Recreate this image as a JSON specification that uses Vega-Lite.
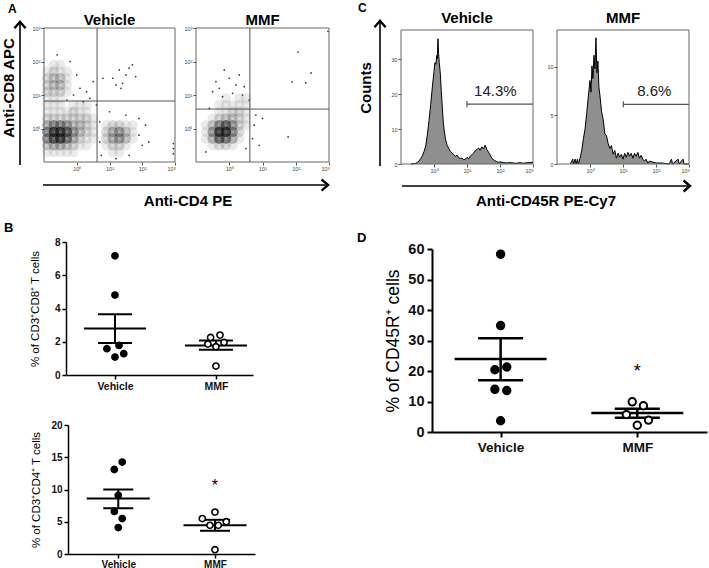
{
"$schema": "https://vega.github.io/schema/vega-lite/v6.json",
"width": 709,
"height": 568,
"autosize": {"type": "none"},
"padding": 0,
"background": "white",
"config": {"font": "Liberation Sans", "view": {"stroke": null}, "axis": {"grid": false, "labelOverlap": false, "labelFont": "Liberation Sans", "titleFont": "Liberation Sans"}},
"datasets": {
"aveh_density": [
{"cd4":-0.9,"cd8":0.7,"n":1},{"cd4":-0.7,"cd8":0.7,"n":1},{"cd4":-0.5,"cd8":0.7,"n":1},{"cd4":-0.1,"cd8":0.7,"n":1},{"cd4":0.1,"cd8":0.7,"n":1},{"cd4":0.3,"cd8":0.7,"n":1},
{"cd4":-0.9,"cd8":0.5,"n":1},{"cd4":-0.7,"cd8":0.5,"n":1},{"cd4":-0.5,"cd8":0.5,"n":1},{"cd4":-0.3,"cd8":0.5,"n":1},{"cd4":-0.1,"cd8":0.5,"n":2},{"cd4":0.1,"cd8":0.5,"n":1},{"cd4":0.3,"cd8":0.5,"n":1},
{"cd4":-0.9,"cd8":0.3,"n":2},{"cd4":-0.7,"cd8":0.3,"n":2},{"cd4":-0.5,"cd8":0.3,"n":2},{"cd4":-0.3,"cd8":0.3,"n":2},{"cd4":-0.1,"cd8":0.3,"n":2},{"cd4":0.1,"cd8":0.3,"n":2},{"cd4":0.3,"cd8":0.3,"n":2},{"cd4":0.5,"cd8":0.3,"n":1},
{"cd4":-0.9,"cd8":0.1,"n":4},{"cd4":-0.7,"cd8":0.1,"n":6},{"cd4":-0.5,"cd8":0.1,"n":6},{"cd4":-0.3,"cd8":0.1,"n":5},{"cd4":-0.1,"cd8":0.1,"n":3},{"cd4":0.1,"cd8":0.1,"n":3},{"cd4":0.3,"cd8":0.1,"n":2},{"cd4":0.5,"cd8":0.1,"n":1},
{"cd4":-0.9,"cd8":-0.1,"n":6},{"cd4":-0.7,"cd8":-0.1,"n":10},{"cd4":-0.5,"cd8":-0.1,"n":10},{"cd4":-0.3,"cd8":-0.1,"n":8},{"cd4":-0.1,"cd8":-0.1,"n":5},{"cd4":0.1,"cd8":-0.1,"n":3},{"cd4":0.3,"cd8":-0.1,"n":2},{"cd4":0.5,"cd8":-0.1,"n":1},
{"cd4":-0.9,"cd8":-0.3,"n":6},{"cd4":-0.7,"cd8":-0.3,"n":9},{"cd4":-0.5,"cd8":-0.3,"n":10},{"cd4":-0.3,"cd8":-0.3,"n":7},{"cd4":-0.1,"cd8":-0.3,"n":4},{"cd4":0.1,"cd8":-0.3,"n":2},{"cd4":0.3,"cd8":-0.3,"n":1},{"cd4":0.5,"cd8":-0.3,"n":1},
{"cd4":-0.9,"cd8":-0.5,"n":3},{"cd4":-0.7,"cd8":-0.5,"n":4},{"cd4":-0.5,"cd8":-0.5,"n":4},{"cd4":-0.3,"cd8":-0.5,"n":3},{"cd4":-0.1,"cd8":-0.5,"n":2},{"cd4":0.1,"cd8":-0.5,"n":1},{"cd4":0.3,"cd8":-0.5,"n":1},
{"cd4":-0.9,"cd8":-0.7,"n":1},{"cd4":-0.7,"cd8":-0.7,"n":1},{"cd4":-0.5,"cd8":-0.7,"n":1},{"cd4":-0.3,"cd8":-0.7,"n":1},{"cd4":-0.1,"cd8":-0.7,"n":1},
{"cd4":-0.7,"cd8":1.9,"n":1},{"cd4":-0.5,"cd8":1.9,"n":1},
{"cd4":-0.9,"cd8":1.7,"n":1},{"cd4":-0.7,"cd8":1.7,"n":2},{"cd4":-0.5,"cd8":1.7,"n":1},{"cd4":-0.3,"cd8":1.7,"n":1},
{"cd4":-0.9,"cd8":1.5,"n":2},{"cd4":-0.7,"cd8":1.5,"n":3},{"cd4":-0.5,"cd8":1.5,"n":3},{"cd4":-0.3,"cd8":1.5,"n":1},
{"cd4":-0.9,"cd8":1.3,"n":2},{"cd4":-0.7,"cd8":1.3,"n":3},{"cd4":-0.5,"cd8":1.3,"n":3},{"cd4":-0.3,"cd8":1.3,"n":1},
{"cd4":-0.9,"cd8":1.1,"n":2},{"cd4":-0.7,"cd8":1.1,"n":2},{"cd4":-0.5,"cd8":1.1,"n":2},{"cd4":-0.3,"cd8":1.1,"n":1},
{"cd4":-0.9,"cd8":0.9,"n":1},{"cd4":-0.7,"cd8":0.9,"n":1},{"cd4":-0.5,"cd8":0.9,"n":1},
{"cd4":0.9,"cd8":0.1,"n":1},{"cd4":1.1,"cd8":0.1,"n":2},{"cd4":1.3,"cd8":0.1,"n":2},{"cd4":1.5,"cd8":0.1,"n":1},{"cd4":1.7,"cd8":0.1,"n":1},
{"cd4":0.9,"cd8":-0.1,"n":2},{"cd4":1.1,"cd8":-0.1,"n":4},{"cd4":1.3,"cd8":-0.1,"n":5},{"cd4":1.5,"cd8":-0.1,"n":3},{"cd4":1.7,"cd8":-0.1,"n":1},
{"cd4":0.9,"cd8":-0.3,"n":2},{"cd4":1.1,"cd8":-0.3,"n":4},{"cd4":1.3,"cd8":-0.3,"n":5},{"cd4":1.5,"cd8":-0.3,"n":3},{"cd4":1.7,"cd8":-0.3,"n":1},
{"cd4":0.9,"cd8":-0.5,"n":1},{"cd4":1.1,"cd8":-0.5,"n":2},{"cd4":1.3,"cd8":-0.5,"n":2},{"cd4":1.5,"cd8":-0.5,"n":1},
{"cd4":1.1,"cd8":-0.7,"n":1},{"cd4":1.3,"cd8":-0.7,"n":1}
],
"aveh_events": [
{"cd4":1.1,"cd8":1.5},{"cd4":1.3,"cd8":1.75},{"cd4":1.5,"cd8":1.6},{"cd4":1.7,"cd8":1.9},{"cd4":1.4,"cd8":1.35},{"cd4":1.6,"cd8":1.8},{"cd4":1.2,"cd8":1.3},{"cd4":0.5,"cd8":1.4},{"cd4":0.3,"cd8":1.1},{"cd4":0.1,"cd8":1.2},{"cd4":-0.1,"cd8":1.0},{"cd4":0.0,"cd8":1.6},{"cd4":-0.2,"cd8":2.0},{"cd4":-0.6,"cd8":2.2},{"cd4":0.8,"cd8":1.5},{"cd4":1.9,"cd8":-0.2},{"cd4":2.0,"cd8":-0.5},{"cd4":2.1,"cd8":0.1},{"cd4":1.9,"cd8":0.3},{"cd4":2.2,"cd8":-0.4},{"cd4":2.95,"cd8":-0.45},{"cd4":2.95,"cd8":-0.6},{"cd4":2.95,"cd8":-0.75},{"cd4":0.7,"cd8":0.2},{"cd4":0.7,"cd8":-0.4},{"cd4":0.75,"cd8":-0.8},{"cd4":1.0,"cd8":0.5},{"cd4":1.5,"cd8":0.4},{"cd4":0.6,"cd8":0.7},{"cd4":0.4,"cd8":0.9},{"cd4":0.2,"cd8":0.8},{"cd4":-0.3,"cd8":0.85},{"cd4":1.2,"cd8":-0.9},{"cd4":1.6,"cd8":-0.8},{"cd4":1.8,"cd8":1.55},{"cd4":1.35,"cd8":1.2}
],
"ammf_density": [
{"cd4":-0.1,"cd8":0.9,"n":1},{"cd4":0.3,"cd8":0.9,"n":1},{"cd4":0.5,"cd8":0.9,"n":1},
{"cd4":-0.3,"cd8":0.7,"n":1},{"cd4":-0.1,"cd8":0.7,"n":1},{"cd4":0.1,"cd8":0.7,"n":1},{"cd4":0.3,"cd8":0.7,"n":1},{"cd4":0.5,"cd8":0.7,"n":1},
{"cd4":-0.3,"cd8":0.5,"n":1},{"cd4":-0.1,"cd8":0.5,"n":1},{"cd4":0.1,"cd8":0.5,"n":2},{"cd4":0.3,"cd8":0.5,"n":2},{"cd4":0.5,"cd8":0.5,"n":1},
{"cd4":-0.5,"cd8":0.3,"n":1},{"cd4":-0.3,"cd8":0.3,"n":2},{"cd4":-0.1,"cd8":0.3,"n":3},{"cd4":0.1,"cd8":0.3,"n":3},{"cd4":0.3,"cd8":0.3,"n":2},{"cd4":0.5,"cd8":0.3,"n":1},
{"cd4":-0.7,"cd8":0.1,"n":1},{"cd4":-0.5,"cd8":0.1,"n":3},{"cd4":-0.3,"cd8":0.1,"n":6},{"cd4":-0.1,"cd8":0.1,"n":8},{"cd4":0.1,"cd8":0.1,"n":5},{"cd4":0.3,"cd8":0.1,"n":2},{"cd4":0.5,"cd8":0.1,"n":1},
{"cd4":-0.7,"cd8":-0.1,"n":1},{"cd4":-0.5,"cd8":-0.1,"n":5},{"cd4":-0.3,"cd8":-0.1,"n":10},{"cd4":-0.1,"cd8":-0.1,"n":10},{"cd4":0.1,"cd8":-0.1,"n":6},{"cd4":0.3,"cd8":-0.1,"n":2},
{"cd4":-0.7,"cd8":-0.3,"n":1},{"cd4":-0.5,"cd8":-0.3,"n":4},{"cd4":-0.3,"cd8":-0.3,"n":8},{"cd4":-0.1,"cd8":-0.3,"n":7},{"cd4":0.1,"cd8":-0.3,"n":4},{"cd4":0.3,"cd8":-0.3,"n":1},
{"cd4":-0.5,"cd8":-0.5,"n":1},{"cd4":-0.3,"cd8":-0.5,"n":2},{"cd4":-0.1,"cd8":-0.5,"n":2},{"cd4":0.1,"cd8":-0.5,"n":1}
],
"ammf_events": [
{"cd4":-0.3,"cd8":1.2},{"cd4":0.0,"cd8":1.5},{"cd4":0.2,"cd8":1.3},{"cd4":-0.5,"cd8":1.1},{"cd4":0.4,"cd8":1.0},{"cd4":0.1,"cd8":1.05},{"cd4":-0.2,"cd8":0.95},{"cd4":0.3,"cd8":1.6},{"cd4":-0.4,"cd8":1.4},{"cd4":0.6,"cd8":0.85},{"cd4":0.8,"cd8":0.4},{"cd4":1.0,"cd8":0.3},{"cd4":0.7,"cd8":-0.3},{"cd4":0.9,"cd8":-0.5},{"cd4":0.75,"cd8":0.1},{"cd4":2.07,"cd8":2.28},{"cd4":2.46,"cd8":1.66},{"cd4":1.89,"cd8":1.39},{"cd4":2.3,"cd8":1.36},{"cd4":1.77,"cd8":-0.25},{"cd4":2.97,"cd8":2.9},{"cd4":-0.6,"cd8":0.6},{"cd4":-0.7,"cd8":-0.7},{"cd4":0.5,"cd8":-0.6},{"cd4":-0.15,"cd8":1.75},{"cd4":0.45,"cd8":1.25}
],
"cveh": [
{"log":-0.7,"count":0},{"log":-0.55,"count":0.2},{"log":-0.5,"count":0.5},{"log":-0.45,"count":0.9},{"log":-0.4,"count":1.6},{"log":-0.35,"count":2.4},{"log":-0.3,"count":3.6},{"log":-0.25,"count":5.2},{"log":-0.2,"count":8.5},{"log":-0.15,"count":12.5},{"log":-0.1,"count":17},{"log":-0.05,"count":22},{"log":0.0,"count":26.5},{"log":0.03,"count":29},{"log":0.06,"count":28.5},{"log":0.08,"count":31},{"log":0.1,"count":30},{"log":0.12,"count":35.8},{"log":0.14,"count":31.5},{"log":0.16,"count":29},{"log":0.19,"count":26},{"log":0.22,"count":21},{"log":0.25,"count":16.5},{"log":0.28,"count":12},{"log":0.31,"count":9.5},{"log":0.35,"count":7},{"log":0.4,"count":5.3},{"log":0.45,"count":4.4},{"log":0.5,"count":3.6},{"log":0.55,"count":3.1},{"log":0.6,"count":2.7},{"log":0.65,"count":2.2},{"log":0.7,"count":2.5},{"log":0.75,"count":1.8},{"log":0.8,"count":1.6},{"log":0.85,"count":1.7},{"log":0.9,"count":1.2},{"log":0.95,"count":1.4},{"log":1.0,"count":1.9},{"log":1.05,"count":1.5},{"log":1.1,"count":2.3},{"log":1.15,"count":2.6},{"log":1.2,"count":3.1},{"log":1.25,"count":3.8},{"log":1.3,"count":4.1},{"log":1.35,"count":4.6},{"log":1.4,"count":3.9},{"log":1.45,"count":4.9},{"log":1.5,"count":4.3},{"log":1.55,"count":5.4},{"log":1.6,"count":4.2},{"log":1.65,"count":3.4},{"log":1.7,"count":2.6},{"log":1.75,"count":1.7},{"log":1.8,"count":1.3},{"log":1.85,"count":0.9},{"log":1.9,"count":0.7},{"log":1.95,"count":0.5},{"log":2.0,"count":0.6},{"log":2.1,"count":0.4},{"log":2.2,"count":0.3},{"log":2.3,"count":0.4},{"log":2.4,"count":0.3},{"log":2.5,"count":0.2},{"log":2.6,"count":0.4},{"log":2.7,"count":0.2},{"log":2.8,"count":0.35},{"log":2.9,"count":0.4},{"log":3.0,"count":0.5}
],
"cmmf": [
{"log":-0.6,"count":0},{"log":-0.52,"count":0.5},{"log":-0.5,"count":0},{"log":-0.45,"count":0.5},{"log":-0.42,"count":0},{"log":-0.38,"count":0.5},{"log":-0.35,"count":0},{"log":-0.3,"count":0.6},{"log":-0.25,"count":1.4},{"log":-0.2,"count":2.6},{"log":-0.15,"count":3.6},{"log":-0.1,"count":5.2},{"log":-0.05,"count":7},{"log":0.0,"count":8.6},{"log":0.03,"count":7.4},{"log":0.06,"count":10.1},{"log":0.09,"count":8.8},{"log":0.12,"count":11.2},{"log":0.15,"count":9.8},{"log":0.18,"count":13},{"log":0.21,"count":9.4},{"log":0.24,"count":10.6},{"log":0.27,"count":7.9},{"log":0.3,"count":7.1},{"log":0.35,"count":5.4},{"log":0.4,"count":4.6},{"log":0.45,"count":3.1},{"log":0.5,"count":2.9},{"log":0.55,"count":2.1},{"log":0.6,"count":1.6},{"log":0.65,"count":1.9},{"log":0.7,"count":1.0},{"log":0.75,"count":1.4},{"log":0.8,"count":0.6},{"log":0.85,"count":1.1},{"log":0.9,"count":0.7},{"log":0.95,"count":1.0},{"log":1.0,"count":0.5},{"log":1.05,"count":1.1},{"log":1.1,"count":0.7},{"log":1.15,"count":1.2},{"log":1.2,"count":0.8},{"log":1.25,"count":1.1},{"log":1.3,"count":0.6},{"log":1.35,"count":1.1},{"log":1.4,"count":0.8},{"log":1.45,"count":1.2},{"log":1.5,"count":0.6},{"log":1.55,"count":0.9},{"log":1.6,"count":0.5},{"log":1.65,"count":0.3},{"log":1.7,"count":0.5},{"log":1.75,"count":0.1},{"log":1.8,"count":0.3},{"log":1.9,"count":0.2},{"log":2.0,"count":0.1},{"log":2.2,"count":0.1},{"log":2.4,"count":0},{"log":2.47,"count":0.5},{"log":2.5,"count":0},{"log":2.67,"count":0.5},{"log":2.7,"count":0},{"log":2.82,"count":0.5},{"log":2.85,"count":0},{"log":3.0,"count":0}
],
"btop_pts": [
{"group":"Vehicle","pos":1.0,"pct":7.17},{"group":"Vehicle","pos":1.0,"pct":4.81},{"group":"Vehicle","pos":0.92,"pct":1.58},{"group":"Vehicle","pos":1.04,"pct":1.78},{"group":"Vehicle","pos":1.0,"pct":1.08},{"group":"Vehicle","pos":1.087,"pct":1.28},
{"group":"MMF","pos":1.947,"pct":2.26},{"group":"MMF","pos":2.04,"pct":2.4},{"group":"MMF","pos":1.92,"pct":1.86},{"group":"MMF","pos":2.08,"pct":1.96},{"group":"MMF","pos":2.0,"pct":1.7},{"group":"MMF","pos":2.0,"pct":0.54}
],
"btop_stats": [
{"group":"Vehicle","pos":1,"mean":2.79,"upper":3.65,"lower":1.92},{"group":"MMF","pos":2,"mean":1.78,"upper":2.08,"lower":1.52}
],
"bbot_pts": [
{"group":"Vehicle","pos":1.041,"pct":14.25},{"group":"Vehicle","pos":0.959,"pct":13.1},{"group":"Vehicle","pos":1.0,"pct":9.1},{"group":"Vehicle","pos":0.959,"pct":6.6},{"group":"Vehicle","pos":1.041,"pct":5.5},{"group":"Vehicle","pos":1.0,"pct":4.1},
{"group":"MMF","pos":2.0,"pct":6.5},{"group":"MMF","pos":1.869,"pct":5.5},{"group":"MMF","pos":1.948,"pct":4.45},{"group":"MMF","pos":2.034,"pct":4.45},{"group":"MMF","pos":2.117,"pct":5.0},{"group":"MMF","pos":2.0,"pct":0.67}
],
"bbot_stats": [
{"group":"Vehicle","pos":1,"mean":8.6,"upper":10.0,"lower":7.1},{"group":"MMF","pos":2,"mean":4.45,"upper":5.3,"lower":3.6}
],
"d_pts": [
{"group":"Vehicle","pos":1.0,"pct":58.3},{"group":"Vehicle","pos":1.0,"pct":34.9},{"group":"Vehicle","pos":0.958,"pct":20.4},{"group":"Vehicle","pos":1.045,"pct":21.3},{"group":"Vehicle","pos":0.958,"pct":14.0},{"group":"Vehicle","pos":1.045,"pct":13.6},{"group":"Vehicle","pos":1.0,"pct":3.7},
{"group":"MMF","pos":1.963,"pct":9.9},{"group":"MMF","pos":2.045,"pct":8.6},{"group":"MMF","pos":1.92,"pct":5.7},{"group":"MMF","pos":2.082,"pct":3.9},{"group":"MMF","pos":2.0,"pct":2.2}
],
"d_stats": [
{"group":"Vehicle","pos":1,"mean":23.9,"upper":30.7,"lower":17.0},{"group":"MMF","pos":2,"mean":6.25,"upper":7.6,"lower":4.7}
]
},
"resolve": {"scale": {"x": "independent", "y": "independent"}},
"layer": [
{"layer": [
  {"data":{"name":"aveh_density"},"mark":{"type":"point","shape":"circle","filled":true,"size":110,"color":"black"},
   "encoding":{
    "x":{"field":"cd4","type":"quantitative","scale":{"domain":[-1,3],"range":[44,175],"nice":false,"zero":false},"axis":{"orient":"bottom","offset":-406,"values":[0,1,2,3],"labelExpr":"datum.value == 0 ? '10⁰' : datum.value == 1 ? '10¹' : datum.value == 2 ? '10²' : '10³'","title":null,"labelFontSize":5.5,"labelColor":"#444","tickSize":3,"tickColor":"#555","domain":false,"labelPadding":1}},
    "y":{"field":"cd8","type":"quantitative","scale":{"domain":[-1,3],"range":[162,28],"nice":false,"zero":false},"axis":{"orient":"left","offset":-44,"values":[0,1,2,3],"labelExpr":"datum.value == 0 ? '10⁰' : datum.value == 1 ? '10¹' : datum.value == 2 ? '10²' : '10³'","title":null,"labelFontSize":5.5,"labelColor":"#444","tickSize":3,"tickColor":"#555","domain":false,"labelPadding":1}},
    "opacity":{"field":"n","type":"quantitative","scale":{"domain":[1,10],"range":[0.08,0.62]},"legend":null}}},
  {"data":{"name":"aveh_events"},"mark":{"type":"point","filled":true,"size":3,"color":"black","opacity":0.8},
   "encoding":{"x":{"field":"cd4","type":"quantitative","scale":{"domain":[-1,3],"range":[44,175],"nice":false,"zero":false}},"y":{"field":"cd8","type":"quantitative","scale":{"domain":[-1,3],"range":[162,28],"nice":false,"zero":false}}}},
  {"data":{"values":[{}]},"mark":{"type":"rect","filled":false,"color":"#666","strokeWidth":1},
   "encoding":{"x":{"datum":-1,"type":"quantitative","scale":{"domain":[-1,3],"range":[44,175],"nice":false,"zero":false}},"x2":{"datum":3},"y":{"datum":-1,"type":"quantitative","scale":{"domain":[-1,3],"range":[162,28],"nice":false,"zero":false}},"y2":{"datum":3}}},
  {"data":{"values":[{}]},"mark":{"type":"rule","color":"#555","strokeWidth":1},
   "encoding":{"x":{"datum":0.62,"type":"quantitative","scale":{"domain":[-1,3],"range":[44,175],"nice":false,"zero":false}},"y":{"datum":-1,"type":"quantitative","scale":{"domain":[-1,3],"range":[162,28],"nice":false,"zero":false}},"y2":{"datum":3}}},
  {"data":{"values":[{}]},"mark":{"type":"rule","color":"#555","strokeWidth":1},
   "encoding":{"x":{"datum":-1,"type":"quantitative","scale":{"domain":[-1,3],"range":[44,175],"nice":false,"zero":false}},"x2":{"datum":3},"y":{"datum":0.82,"type":"quantitative","scale":{"domain":[-1,3],"range":[162,28],"nice":false,"zero":false}}}},
  {"data":{"values":[{}]},"mark":{"type":"rule","color":"black","strokeWidth":1.6},
   "encoding":{"x":{"datum":-1.733,"type":"quantitative","scale":{"domain":[-1,3],"range":[44,175],"nice":false,"zero":false}},"y":{"datum":-1.09,"type":"quantitative","scale":{"domain":[-1,3],"range":[162,28],"nice":false,"zero":false}},"y2":{"datum":3.16}}},
  {"data":{"values":[{}]},"mark":{"type":"point","shape":"M -0.85 0.6 L 0 -0.4 L 0.85 0.6","size":169,"filled":false,"color":"black","strokeWidth":2.4,"strokeJoin":"miter","opacity":1},
   "encoding":{"x":{"datum":-1.733,"type":"quantitative","scale":{"domain":[-1,3],"range":[44,175],"nice":false,"zero":false}},"y":{"datum":3.107,"type":"quantitative","scale":{"domain":[-1,3],"range":[162,28],"nice":false,"zero":false}}}},
  {"data":{"values":[{}]},"mark":{"type":"rule","color":"black","strokeWidth":1.6},
   "encoding":{"x":{"datum":-1.031,"type":"quantitative","scale":{"domain":[-1,3],"range":[44,175],"nice":false,"zero":false}},"x2":{"datum":7.6},"y":{"datum":-1.687,"type":"quantitative","scale":{"domain":[-1,3],"range":[162,28],"nice":false,"zero":false}}}},
  {"data":{"values":[{}]},"mark":{"type":"point","shape":"M -0.6 -0.85 L 0.4 0 L -0.6 0.85","size":169,"filled":false,"color":"black","strokeWidth":2.4,"strokeJoin":"miter","opacity":1},
   "encoding":{"x":{"datum":7.593,"type":"quantitative","scale":{"domain":[-1,3],"range":[44,175],"nice":false,"zero":false}},"y":{"datum":-1.687,"type":"quantitative","scale":{"domain":[-1,3],"range":[162,28],"nice":false,"zero":false}}}},
  {"data":{"values":[{}]},"mark":{"type":"text","fontSize":15,"fontWeight":"bold","align":"center","baseline":"alphabetic","color":"black"},
   "encoding":{"x":{"datum":3.397,"type":"quantitative","scale":{"domain":[-1,3],"range":[44,175],"nice":false,"zero":false}},"y":{"datum":-2.313,"type":"quantitative","scale":{"domain":[-1,3],"range":[162,28],"nice":false,"zero":false}},"text":{"value":"Anti-CD4 PE"}}},
  {"data":{"values":[{}]},"mark":{"type":"text","angle":270,"fontSize":15,"fontWeight":"bold","align":"center","baseline":"middle","color":"black"},
   "encoding":{"x":{"datum":-2.069,"type":"quantitative","scale":{"domain":[-1,3],"range":[44,175],"nice":false,"zero":false}},"y":{"datum":1.209,"type":"quantitative","scale":{"domain":[-1,3],"range":[162,28],"nice":false,"zero":false}},"text":{"value":"Anti-CD8 APC"}}},
  {"data":{"values":[{}]},"mark":{"type":"text","fontSize":12,"fontWeight":"bold","align":"left","baseline":"alphabetic","color":"black"},
   "encoding":{"x":{"datum":-2.099,"type":"quantitative","scale":{"domain":[-1,3],"range":[44,175],"nice":false,"zero":false}},"y":{"datum":3.448,"type":"quantitative","scale":{"domain":[-1,3],"range":[162,28],"nice":false,"zero":false}},"text":{"value":"A"}}},
  {"data":{"values":[{}]},"mark":{"type":"text","fontSize":15,"fontWeight":"bold","align":"center","baseline":"alphabetic","color":"black"},
   "encoding":{"x":{"datum":1,"type":"quantitative","scale":{"domain":[-1,3],"range":[44,175],"nice":false,"zero":false}},"y":{"datum":3.09,"type":"quantitative","scale":{"domain":[-1,3],"range":[162,28],"nice":false,"zero":false}},"text":{"value":"Vehicle"}}}
]},
{"layer": [
  {"data":{"name":"ammf_density"},"mark":{"type":"point","shape":"circle","filled":true,"size":110,"color":"black"},
   "encoding":{
    "x":{"field":"cd4","type":"quantitative","scale":{"domain":[-1,3],"range":[196,329],"nice":false,"zero":false},"axis":{"orient":"bottom","offset":-406,"values":[0,1,2,3],"labelExpr":"datum.value == 0 ? '10⁰' : datum.value == 1 ? '10¹' : datum.value == 2 ? '10²' : '10³'","title":null,"labelFontSize":5.5,"labelColor":"#444","tickSize":3,"tickColor":"#555","domain":false,"labelPadding":1}},
    "y":{"field":"cd8","type":"quantitative","scale":{"domain":[-1,3],"range":[162,28],"nice":false,"zero":false},"axis":{"orient":"left","offset":-196,"values":[0,1,2,3],"labelExpr":"datum.value == 0 ? '10⁰' : datum.value == 1 ? '10¹' : datum.value == 2 ? '10²' : '10³'","title":null,"labelFontSize":5.5,"labelColor":"#444","tickSize":3,"tickColor":"#555","domain":false,"labelPadding":1}},
    "opacity":{"field":"n","type":"quantitative","scale":{"domain":[1,10],"range":[0.08,0.62]},"legend":null}}},
  {"data":{"name":"ammf_events"},"mark":{"type":"point","filled":true,"size":3,"color":"black","opacity":0.8},
   "encoding":{"x":{"field":"cd4","type":"quantitative","scale":{"domain":[-1,3],"range":[196,329],"nice":false,"zero":false}},"y":{"field":"cd8","type":"quantitative","scale":{"domain":[-1,3],"range":[162,28],"nice":false,"zero":false}}}},
  {"data":{"values":[{}]},"mark":{"type":"rect","filled":false,"color":"#666","strokeWidth":1},
   "encoding":{"x":{"datum":-1,"type":"quantitative","scale":{"domain":[-1,3],"range":[196,329],"nice":false,"zero":false}},"x2":{"datum":3},"y":{"datum":-1,"type":"quantitative","scale":{"domain":[-1,3],"range":[162,28],"nice":false,"zero":false}},"y2":{"datum":3}}},
  {"data":{"values":[{}]},"mark":{"type":"rule","color":"#555","strokeWidth":1},
   "encoding":{"x":{"datum":0.62,"type":"quantitative","scale":{"domain":[-1,3],"range":[196,329],"nice":false,"zero":false}},"y":{"datum":-1,"type":"quantitative","scale":{"domain":[-1,3],"range":[162,28],"nice":false,"zero":false}},"y2":{"datum":3}}},
  {"data":{"values":[{}]},"mark":{"type":"rule","color":"#555","strokeWidth":1},
   "encoding":{"x":{"datum":-1,"type":"quantitative","scale":{"domain":[-1,3],"range":[196,329],"nice":false,"zero":false}},"x2":{"datum":3},"y":{"datum":0.58,"type":"quantitative","scale":{"domain":[-1,3],"range":[162,28],"nice":false,"zero":false}}}},
  {"data":{"values":[{}]},"mark":{"type":"text","fontSize":15,"fontWeight":"bold","align":"center","baseline":"alphabetic","color":"black"},
   "encoding":{"x":{"datum":1,"type":"quantitative","scale":{"domain":[-1,3],"range":[196,329],"nice":false,"zero":false}},"y":{"datum":3.09,"type":"quantitative","scale":{"domain":[-1,3],"range":[162,28],"nice":false,"zero":false}},"text":{"value":"MMF"}}}
]},
{"layer": [
  {"data":{"name":"cveh"},"mark":{"type":"area","color":"#8f8f8f","opacity":1,"interpolate":"linear","line":{"color":"black","strokeWidth":1}},
   "encoding":{
    "x":{"field":"log","type":"quantitative","scale":{"domain":[-1,3],"range":[401,533],"nice":false,"zero":false},"axis":{"orient":"bottom","offset":-404,"values":[0,1,2,3],"labelExpr":"datum.value == 0 ? '10⁰' : datum.value == 1 ? '10¹' : datum.value == 2 ? '10²' : '10³'","title":null,"labelFontSize":5.5,"labelColor":"#444","tickSize":3,"tickColor":"#555","domain":false,"labelPadding":1}},
    "y":{"field":"count","type":"quantitative","scale":{"domain":[0,38.3],"range":[164,30],"nice":false,"zero":false},"axis":{"orient":"left","offset":-401,"values":[0,10,20,30],"title":null,"labelFontSize":5.5,"labelColor":"#444","tickSize":3,"tickColor":"#555","domain":false,"labelPadding":1}}}},
  {"data":{"values":[{}]},"mark":{"type":"rect","filled":false,"color":"#666","strokeWidth":1},
   "encoding":{"x":{"datum":-1,"type":"quantitative","scale":{"domain":[-1,3],"range":[401,533],"nice":false,"zero":false}},"x2":{"datum":3},"y":{"datum":0,"type":"quantitative","scale":{"domain":[0,38.3],"range":[164,30],"nice":false,"zero":false}},"y2":{"datum":38.3}}},
  {"data":{"values":[{}]},"mark":{"type":"rule","color":"#555","strokeWidth":1.2},
   "encoding":{"x":{"datum":1.0,"type":"quantitative","scale":{"domain":[-1,3],"range":[401,533],"nice":false,"zero":false}},"x2":{"datum":3},"y":{"datum":17.1,"type":"quantitative","scale":{"domain":[0,38.3],"range":[164,30],"nice":false,"zero":false}}}},
  {"data":{"values":[{}]},"mark":{"type":"rule","color":"#555","strokeWidth":1.2},
   "encoding":{"x":{"datum":1.0,"type":"quantitative","scale":{"domain":[-1,3],"range":[401,533],"nice":false,"zero":false}},"y":{"datum":16.2,"type":"quantitative","scale":{"domain":[0,38.3],"range":[164,30],"nice":false,"zero":false}},"y2":{"datum":18.0}}},
  {"data":{"values":[{}]},"mark":{"type":"text","fontSize":15,"color":"#222","align":"center","baseline":"alphabetic"},
   "encoding":{"x":{"datum":1.86,"type":"quantitative","scale":{"domain":[-1,3],"range":[401,533],"nice":false,"zero":false}},"y":{"datum":19.3,"type":"quantitative","scale":{"domain":[0,38.3],"range":[164,30],"nice":false,"zero":false}},"text":{"value":"14.3%"}}},
  {"data":{"values":[{}]},"mark":{"type":"rule","color":"black","strokeWidth":1.6},
   "encoding":{"x":{"datum":-1.636,"type":"quantitative","scale":{"domain":[-1,3],"range":[401,533],"nice":false,"zero":false}},"y":{"datum":-0.572,"type":"quantitative","scale":{"domain":[0,38.3],"range":[164,30],"nice":false,"zero":false}},"y2":{"datum":40.8}}},
  {"data":{"values":[{}]},"mark":{"type":"point","shape":"M -0.85 0.6 L 0 -0.4 L 0.85 0.6","size":169,"filled":false,"color":"black","strokeWidth":2.4,"strokeJoin":"miter","opacity":1},
   "encoding":{"x":{"datum":-1.636,"type":"quantitative","scale":{"domain":[-1,3],"range":[401,533],"nice":false,"zero":false}},"y":{"datum":40.19,"type":"quantitative","scale":{"domain":[0,38.3],"range":[164,30],"nice":false,"zero":false}}}},
  {"data":{"values":[{}]},"mark":{"type":"rule","color":"black","strokeWidth":1.6},
   "encoding":{"x":{"datum":-0.97,"type":"quantitative","scale":{"domain":[-1,3],"range":[401,533],"nice":false,"zero":false}},"x2":{"datum":7.71},"y":{"datum":-6.288,"type":"quantitative","scale":{"domain":[0,38.3],"range":[164,30],"nice":false,"zero":false}}}},
  {"data":{"values":[{}]},"mark":{"type":"point","shape":"M -0.6 -0.85 L 0.4 0 L -0.6 0.85","size":169,"filled":false,"color":"black","strokeWidth":2.4,"strokeJoin":"miter","opacity":1},
   "encoding":{"x":{"datum":7.679,"type":"quantitative","scale":{"domain":[-1,3],"range":[401,533],"nice":false,"zero":false}},"y":{"datum":-6.288,"type":"quantitative","scale":{"domain":[0,38.3],"range":[164,30],"nice":false,"zero":false}}}},
  {"data":{"values":[{}]},"mark":{"type":"text","fontSize":15,"fontWeight":"bold","align":"center","baseline":"alphabetic","color":"black"},
   "encoding":{"x":{"datum":3.394,"type":"quantitative","scale":{"domain":[-1,3],"range":[401,533],"nice":false,"zero":false}},"y":{"datum":-12.0,"type":"quantitative","scale":{"domain":[0,38.3],"range":[164,30],"nice":false,"zero":false}},"text":{"value":"Anti-CD45R PE-Cy7"}}},
  {"data":{"values":[{}]},"mark":{"type":"text","angle":270,"fontSize":15,"fontWeight":"bold","align":"center","baseline":"middle","color":"black"},
   "encoding":{"x":{"datum":-2.061,"type":"quantitative","scale":{"domain":[-1,3],"range":[401,533],"nice":false,"zero":false}},"y":{"datum":21.72,"type":"quantitative","scale":{"domain":[0,38.3],"range":[164,30],"nice":false,"zero":false}},"text":{"value":"Counts"}}},
  {"data":{"values":[{}]},"mark":{"type":"text","fontSize":12,"fontWeight":"bold","align":"left","baseline":"alphabetic","color":"black"},
   "encoding":{"x":{"datum":-2.303,"type":"quantitative","scale":{"domain":[-1,3],"range":[401,533],"nice":false,"zero":false}},"y":{"datum":43.44,"type":"quantitative","scale":{"domain":[0,38.3],"range":[164,30],"nice":false,"zero":false}},"text":{"value":"C"}}},
  {"data":{"values":[{}]},"mark":{"type":"text","fontSize":15,"fontWeight":"bold","align":"center","baseline":"alphabetic","color":"black"},
   "encoding":{"x":{"datum":1,"type":"quantitative","scale":{"domain":[-1,3],"range":[401,533],"nice":false,"zero":false}},"y":{"datum":40.29,"type":"quantitative","scale":{"domain":[0,38.3],"range":[164,30],"nice":false,"zero":false}},"text":{"value":"Vehicle"}}}
]},
{"layer": [
  {"data":{"name":"cmmf"},"mark":{"type":"area","color":"#8f8f8f","opacity":1,"interpolate":"linear","line":{"color":"black","strokeWidth":1}},
   "encoding":{
    "x":{"field":"log","type":"quantitative","scale":{"domain":[-1,3],"range":[557,689],"nice":false,"zero":false},"axis":{"orient":"bottom","offset":-404,"values":[0,1,2,3],"labelExpr":"datum.value == 0 ? '10⁰' : datum.value == 1 ? '10¹' : datum.value == 2 ? '10²' : '10³'","title":null,"labelFontSize":5.5,"labelColor":"#444","tickSize":3,"tickColor":"#555","domain":false,"labelPadding":1}},
    "y":{"field":"count","type":"quantitative","scale":{"domain":[0,13.8],"range":[164,30],"nice":false,"zero":false},"axis":{"orient":"left","offset":-557,"values":[0,5,10],"title":null,"labelFontSize":5.5,"labelColor":"#444","tickSize":3,"tickColor":"#555","domain":false,"labelPadding":1}}}},
  {"data":{"values":[{}]},"mark":{"type":"rect","filled":false,"color":"#666","strokeWidth":1},
   "encoding":{"x":{"datum":-1,"type":"quantitative","scale":{"domain":[-1,3],"range":[557,689],"nice":false,"zero":false}},"x2":{"datum":3},"y":{"datum":0,"type":"quantitative","scale":{"domain":[0,13.8],"range":[164,30],"nice":false,"zero":false}},"y2":{"datum":13.8}}},
  {"data":{"values":[{}]},"mark":{"type":"rule","color":"#555","strokeWidth":1.2},
   "encoding":{"x":{"datum":1.01,"type":"quantitative","scale":{"domain":[-1,3],"range":[557,689],"nice":false,"zero":false}},"x2":{"datum":3},"y":{"datum":6.15,"type":"quantitative","scale":{"domain":[0,13.8],"range":[164,30],"nice":false,"zero":false}}}},
  {"data":{"values":[{}]},"mark":{"type":"rule","color":"#555","strokeWidth":1.2},
   "encoding":{"x":{"datum":1.01,"type":"quantitative","scale":{"domain":[-1,3],"range":[557,689],"nice":false,"zero":false}},"y":{"datum":5.85,"type":"quantitative","scale":{"domain":[0,13.8],"range":[164,30],"nice":false,"zero":false}},"y2":{"datum":6.45}}},
  {"data":{"values":[{}]},"mark":{"type":"text","fontSize":15,"color":"#222","align":"center","baseline":"alphabetic"},
   "encoding":{"x":{"datum":1.95,"type":"quantitative","scale":{"domain":[-1,3],"range":[557,689],"nice":false,"zero":false}},"y":{"datum":7.0,"type":"quantitative","scale":{"domain":[0,13.8],"range":[164,30],"nice":false,"zero":false}},"text":{"value":"8.6%"}}},
  {"data":{"values":[{}]},"mark":{"type":"text","fontSize":15,"fontWeight":"bold","align":"center","baseline":"alphabetic","color":"black"},
   "encoding":{"x":{"datum":1,"type":"quantitative","scale":{"domain":[-1,3],"range":[557,689],"nice":false,"zero":false}},"y":{"datum":14.52,"type":"quantitative","scale":{"domain":[0,13.8],"range":[164,30],"nice":false,"zero":false}},"text":{"value":"MMF"}}}
]},
{"layer": [
  {"data":{"name":"btop_stats"},"mark":{"type":"tick","orient":"horizontal","size":62,"thickness":2,"color":"black","opacity":1},
   "encoding":{
    "x":{"field":"pos","type":"quantitative","scale":{"domain":[0.515,2.367],"range":[66,253],"nice":false,"zero":false},"axis":{"orient":"bottom","offset":-193,"values":[1,2],"labelExpr":"datum.value == 1 ? 'Vehicle' : 'MMF'","title":null,"labelFontSize":10.5,"labelFontWeight":"bold","labelColor":"#111","tickSize":4,"tickWidth":1.5,"tickColor":"black","domainColor":"black","domainWidth":1.5,"labelPadding":2}},
    "y":{"field":"mean","type":"quantitative","scale":{"domain":[0,8],"range":[375,242],"nice":false,"zero":false},"axis":{"orient":"left","offset":-66,"values":[0,2,4,6,8],"format":"d","title":"% of CD3⁺CD8⁺ T cells","titleFontSize":11.5,"titleFontWeight":"normal","titleColor":"black","titlePadding":14,"labelFontSize":10,"labelFontWeight":"bold","labelColor":"#111","tickSize":4,"tickWidth":1.5,"tickColor":"black","domainColor":"black","domainWidth":1.5,"labelPadding":2}}}},
  {"data":{"name":"btop_stats"},"mark":{"type":"tick","orient":"horizontal","size":34,"thickness":2,"color":"black","opacity":1},
   "encoding":{"x":{"field":"pos","type":"quantitative","scale":{"domain":[0.515,2.367],"range":[66,253],"nice":false,"zero":false}},"y":{"field":"upper","type":"quantitative","scale":{"domain":[0,8],"range":[375,242],"nice":false,"zero":false}}}},
  {"data":{"name":"btop_stats"},"mark":{"type":"tick","orient":"horizontal","size":34,"thickness":2,"color":"black","opacity":1},
   "encoding":{"x":{"field":"pos","type":"quantitative","scale":{"domain":[0.515,2.367],"range":[66,253],"nice":false,"zero":false}},"y":{"field":"lower","type":"quantitative","scale":{"domain":[0,8],"range":[375,242],"nice":false,"zero":false}}}},
  {"data":{"name":"btop_stats"},"mark":{"type":"rule","color":"black","strokeWidth":2},
   "encoding":{"x":{"field":"pos","type":"quantitative","scale":{"domain":[0.515,2.367],"range":[66,253],"nice":false,"zero":false}},"y":{"field":"lower","type":"quantitative","scale":{"domain":[0,8],"range":[375,242],"nice":false,"zero":false}},"y2":{"field":"upper"}}},
  {"data":{"name":"btop_pts"},"mark":{"type":"point","filled":true,"size":38,"stroke":"black","strokeWidth":1.6,"opacity":1},
   "encoding":{"x":{"field":"pos","type":"quantitative","scale":{"domain":[0.515,2.367],"range":[66,253],"nice":false,"zero":false}},"y":{"field":"pct","type":"quantitative","scale":{"domain":[0,8],"range":[375,242],"nice":false,"zero":false}},
    "fill":{"field":"group","type":"nominal","scale":{"domain":["Vehicle","MMF"],"range":["black","white"]},"legend":null}}},
  {"data":{"values":[{}]},"mark":{"type":"text","fontSize":13,"fontWeight":"bold","align":"left","baseline":"alphabetic","color":"black"},
   "encoding":{"x":{"datum":-0.099,"type":"quantitative","scale":{"domain":[0.515,2.367],"range":[66,253],"nice":false,"zero":false}},"y":{"datum":8.6,"type":"quantitative","scale":{"domain":[0,8],"range":[375,242],"nice":false,"zero":false}},"text":{"value":"B"}}}
]},
{"layer": [
  {"data":{"name":"bbot_stats"},"mark":{"type":"tick","orient":"horizontal","size":63,"thickness":2,"color":"black","opacity":1},
   "encoding":{
    "x":{"field":"pos","type":"quantitative","scale":{"domain":[0.48,2.414],"range":[68,255],"nice":false,"zero":false},"axis":{"orient":"bottom","offset":-14,"values":[1,2],"labelExpr":"datum.value == 1 ? 'Vehicle' : 'MMF'","title":null,"labelFontSize":10,"labelFontWeight":"bold","labelColor":"#111","tickSize":4,"tickWidth":1.5,"tickColor":"black","domainColor":"black","domainWidth":1.5,"labelPadding":1}},
    "y":{"field":"mean","type":"quantitative","scale":{"domain":[0,20],"range":[554,425],"nice":false,"zero":false},"axis":{"orient":"left","offset":-68,"values":[0,5,10,15,20],"title":"% of CD3⁺CD4⁺ T cells","titleFontSize":11.5,"titleFontWeight":"normal","titleColor":"black","titlePadding":9,"labelFontSize":10,"labelFontWeight":"bold","labelColor":"#111","tickSize":4,"tickWidth":1.5,"tickColor":"black","domainColor":"black","domainWidth":1.5,"labelPadding":2}}}},
  {"data":{"name":"bbot_stats"},"mark":{"type":"tick","orient":"horizontal","size":30,"thickness":2,"color":"black","opacity":1},
   "encoding":{"x":{"field":"pos","type":"quantitative","scale":{"domain":[0.48,2.414],"range":[68,255],"nice":false,"zero":false}},"y":{"field":"upper","type":"quantitative","scale":{"domain":[0,20],"range":[554,425],"nice":false,"zero":false}}}},
  {"data":{"name":"bbot_stats"},"mark":{"type":"tick","orient":"horizontal","size":30,"thickness":2,"color":"black","opacity":1},
   "encoding":{"x":{"field":"pos","type":"quantitative","scale":{"domain":[0.48,2.414],"range":[68,255],"nice":false,"zero":false}},"y":{"field":"lower","type":"quantitative","scale":{"domain":[0,20],"range":[554,425],"nice":false,"zero":false}}}},
  {"data":{"name":"bbot_stats"},"mark":{"type":"rule","color":"black","strokeWidth":2},
   "encoding":{"x":{"field":"pos","type":"quantitative","scale":{"domain":[0.48,2.414],"range":[68,255],"nice":false,"zero":false}},"y":{"field":"lower","type":"quantitative","scale":{"domain":[0,20],"range":[554,425],"nice":false,"zero":false}},"y2":{"field":"upper"}}},
  {"data":{"name":"bbot_pts"},"mark":{"type":"point","filled":true,"size":38,"stroke":"black","strokeWidth":1.6,"opacity":1},
   "encoding":{"x":{"field":"pos","type":"quantitative","scale":{"domain":[0.48,2.414],"range":[68,255],"nice":false,"zero":false}},"y":{"field":"pct","type":"quantitative","scale":{"domain":[0,20],"range":[554,425],"nice":false,"zero":false}},
    "fill":{"field":"group","type":"nominal","scale":{"domain":["Vehicle","MMF"],"range":["black","white"]},"legend":null}}},
  {"data":{"values":[{}]},"mark":{"type":"text","fontSize":16,"align":"center","baseline":"alphabetic","color":"black"},
   "encoding":{"x":{"datum":2,"type":"quantitative","scale":{"domain":[0.48,2.414],"range":[68,255],"nice":false,"zero":false}},"y":{"datum":9.8,"type":"quantitative","scale":{"domain":[0,20],"range":[554,425],"nice":false,"zero":false}},"text":{"value":"*"}}}
]},
{"layer": [
  {"data":{"name":"d_stats"},"mark":{"type":"tick","orient":"horizontal","size":92,"thickness":2.5,"color":"black","opacity":1},
   "encoding":{
    "x":{"field":"pos","type":"quantitative","scale":{"domain":[0.498,2.51],"range":[432,707],"nice":false,"zero":false},"axis":{"orient":"bottom","offset":-136,"values":[1,2],"labelExpr":"datum.value == 1 ? 'Vehicle' : 'MMF'","title":null,"labelFontSize":13.5,"labelFontWeight":"bold","labelColor":"#111","tickSize":5,"tickWidth":2,"tickColor":"black","domainColor":"black","domainWidth":2,"labelPadding":3}},
    "y":{"field":"mean","type":"quantitative","scale":{"domain":[0,60],"range":[432,249],"nice":false,"zero":false},"axis":{"orient":"left","offset":-432,"values":[0,10,20,30,40,50,60],"title":"% of CD45R⁺ cells","titleFontSize":17.5,"titleFontWeight":"normal","titleColor":"black","titlePadding":5,"labelFontSize":14.5,"labelFontWeight":"bold","labelColor":"#111","tickSize":5,"tickWidth":2,"tickColor":"black","domainColor":"black","domainWidth":2,"labelPadding":3}}}},
  {"data":{"name":"d_stats"},"mark":{"type":"tick","orient":"horizontal","size":45,"thickness":2.5,"color":"black","opacity":1},
   "encoding":{"x":{"field":"pos","type":"quantitative","scale":{"domain":[0.498,2.51],"range":[432,707],"nice":false,"zero":false}},"y":{"field":"upper","type":"quantitative","scale":{"domain":[0,60],"range":[432,249],"nice":false,"zero":false}}}},
  {"data":{"name":"d_stats"},"mark":{"type":"tick","orient":"horizontal","size":45,"thickness":2.5,"color":"black","opacity":1},
   "encoding":{"x":{"field":"pos","type":"quantitative","scale":{"domain":[0.498,2.51],"range":[432,707],"nice":false,"zero":false}},"y":{"field":"lower","type":"quantitative","scale":{"domain":[0,60],"range":[432,249],"nice":false,"zero":false}}}},
  {"data":{"name":"d_stats"},"mark":{"type":"rule","color":"black","strokeWidth":2.5},
   "encoding":{"x":{"field":"pos","type":"quantitative","scale":{"domain":[0.498,2.51],"range":[432,707],"nice":false,"zero":false}},"y":{"field":"lower","type":"quantitative","scale":{"domain":[0,60],"range":[432,249],"nice":false,"zero":false}},"y2":{"field":"upper"}}},
  {"data":{"name":"d_pts"},"mark":{"type":"point","filled":true,"size":55,"stroke":"black","strokeWidth":2,"opacity":1},
   "encoding":{"x":{"field":"pos","type":"quantitative","scale":{"domain":[0.498,2.51],"range":[432,707],"nice":false,"zero":false}},"y":{"field":"pct","type":"quantitative","scale":{"domain":[0,60],"range":[432,249],"nice":false,"zero":false}},
    "fill":{"field":"group","type":"nominal","scale":{"domain":["Vehicle","MMF"],"range":["black","white"]},"legend":null}}},
  {"data":{"values":[{}]},"mark":{"type":"text","fontSize":18,"align":"center","baseline":"alphabetic","color":"black"},
   "encoding":{"x":{"datum":2,"type":"quantitative","scale":{"domain":[0.498,2.51],"range":[432,707],"nice":false,"zero":false}},"y":{"datum":18.0,"type":"quantitative","scale":{"domain":[0,60],"range":[432,249],"nice":false,"zero":false}},"text":{"value":"*"}}},
  {"data":{"values":[{}]},"mark":{"type":"text","fontSize":13,"fontWeight":"bold","align":"left","baseline":"alphabetic","color":"black"},
   "encoding":{"x":{"datum":-0.051,"type":"quantitative","scale":{"domain":[0.498,2.51],"range":[432,707],"nice":false,"zero":false}},"y":{"datum":62.3,"type":"quantitative","scale":{"domain":[0,60],"range":[432,249],"nice":false,"zero":false}},"text":{"value":"D"}}}
]}
]
}
